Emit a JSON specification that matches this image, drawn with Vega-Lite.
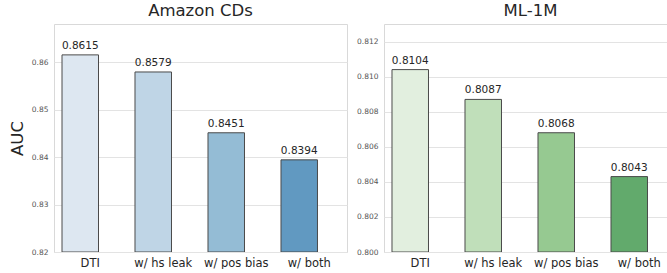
{
  "$schema": "https://vega.github.io/schema/vega-lite/v6.json",
  "padding": {"left": 8, "top": 2, "right": 0, "bottom": 0},
  "autosize": {"type": "pad"},
  "background": "white",
  "config": {
    "font": "DejaVu Sans",
    "view": {"stroke": "#d9d9d9", "strokeWidth": 1},
    "axis": {"labelFont": "DejaVu Sans", "titleFont": "DejaVu Sans"},
    "title": {"font": "DejaVu Sans", "fontSize": 16.5, "fontWeight": "normal", "color": "#262626", "offset": 5}
  },
  "datasets": {
    "amazon": [
      {"variant": "DTI", "auc": 0.8615, "label": "0.8615"},
      {"variant": "w/ hs leak", "auc": 0.8579, "label": "0.8579"},
      {"variant": "w/ pos bias", "auc": 0.8451, "label": "0.8451"},
      {"variant": "w/ both", "auc": 0.8394, "label": "0.8394"}
    ],
    "ml": [
      {"variant": "DTI", "auc": 0.8104, "label": "0.8104"},
      {"variant": "w/ hs leak", "auc": 0.8087, "label": "0.8087"},
      {"variant": "w/ pos bias", "auc": 0.8068, "label": "0.8068"},
      {"variant": "w/ both", "auc": 0.8043, "label": "0.8043"}
    ]
  },
  "hconcat": [
    {
      "title": {"text": "Amazon CDs"},
      "width": 293,
      "height": 228,
      "data": {"name": "amazon"},
      "encoding": {
        "x": {
          "field": "variant", "type": "nominal", "sort": null,
          "scale": {"paddingInner": 0.5, "paddingOuter": 0.257, "align": 0.2133},
          "axis": {"title": null, "labelAngle": 0, "labelFontSize": 11.5, "labelColor": "#262626", "ticks": false, "domain": false, "labelPadding": 5, "labelOffset": 10, "grid": false}
        },
        "y": {
          "field": "auc", "type": "quantitative",
          "scale": {"domain": [0.82, 0.868], "zero": false, "nice": false, "clamp": true},
          "axis": {"title": "AUC", "titleFontSize": 16.5, "titleFontWeight": "normal", "titleColor": "#262626", "titlePadding": 6, "values": [0.82, 0.83, 0.84, 0.85, 0.86], "format": ".2f", "labelFontSize": 7.5, "labelColor": "#555555", "ticks": false, "domain": false, "labelPadding": 6, "gridColor": "#e3e3e3", "gridWidth": 1}
        }
      },
      "layer": [
        {
          "mark": {"type": "bar", "stroke": "#4a4a4a", "strokeWidth": 1, "clip": true},
          "encoding": {
            "color": {
              "field": "variant", "type": "nominal", "sort": null, "legend": null,
              "scale": {"domain": ["DTI", "w/ hs leak", "w/ pos bias", "w/ both"], "range": ["#dde7f1", "#bfd5e6", "#94bcd5", "#6199c1"]}
            }
          }
        },
        {
          "mark": {"type": "text", "baseline": "bottom", "dy": -4, "fontSize": 10.5, "color": "#262626"},
          "encoding": {"text": {"field": "label"}}
        }
      ]
    },
    {
      "title": {"text": "ML-1M", "dx": 4},
      "width": 285,
      "height": 228,
      "data": {"name": "ml"},
      "encoding": {
        "x": {
          "field": "variant", "type": "nominal", "sort": null,
          "scale": {"paddingInner": 0.5, "paddingOuter": 0.202, "align": 0.271},
          "axis": {"title": null, "labelAngle": 0, "labelFontSize": 11.5, "labelColor": "#262626", "ticks": false, "domain": false, "labelPadding": 5, "labelOffset": 10, "grid": false}
        },
        "y": {
          "field": "auc", "type": "quantitative",
          "scale": {"domain": [0.8, 0.813], "zero": false, "nice": false, "clamp": true},
          "axis": {"title": null, "values": [0.8, 0.802, 0.804, 0.806, 0.808, 0.81, 0.812], "format": ".3f", "labelFontSize": 7.5, "labelColor": "#555555", "ticks": false, "domain": false, "labelPadding": 6, "gridColor": "#e3e3e3", "gridWidth": 1}
        }
      },
      "layer": [
        {
          "mark": {"type": "bar", "stroke": "#4a4a4a", "strokeWidth": 1, "clip": true},
          "encoding": {
            "color": {
              "field": "variant", "type": "nominal", "sort": null, "legend": null,
              "scale": {"domain": ["DTI", "w/ hs leak", "w/ pos bias", "w/ both"], "range": ["#e2efdf", "#c0dfba", "#96c991", "#62aa6c"]}
            }
          }
        },
        {
          "mark": {"type": "text", "baseline": "bottom", "dy": -4, "fontSize": 10.5, "color": "#262626"},
          "encoding": {"text": {"field": "label"}}
        }
      ]
    }
  ],
  "resolve": {"scale": {"color": "independent", "y": "independent", "x": "independent"}},
  "spacing": 8
}
